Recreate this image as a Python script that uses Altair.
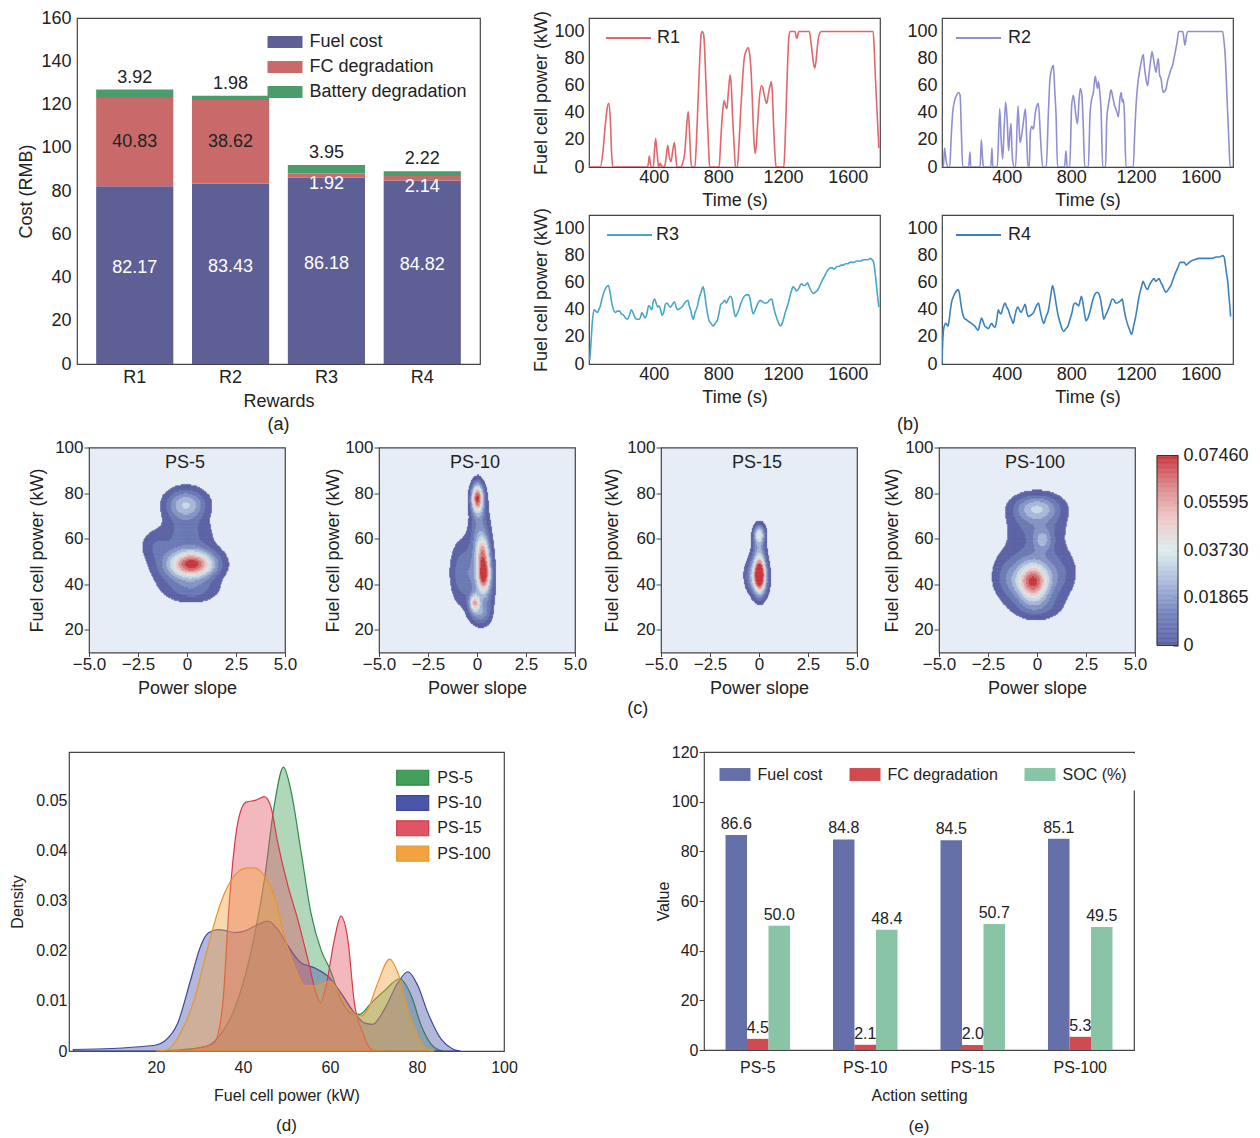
import altair as alt
import numpy as np
import pandas as pd

FONT = "Liberation Sans"
INK = "#222222"
FRAME = "#444444"

# ---------------- (a) cost breakdown per reward ----------------
rewards = ["R1", "R2", "R3", "R4"]
fuel_cost_a = [82.17, 83.43, 86.18, 84.82]
fc_degradation_a = [40.83, 38.62, 1.92, 2.14]
battery_degradation_a = [3.92, 1.98, 3.95, 2.22]
cost_parts = ["Fuel cost", "FC degradation", "Battery degradation"]
cost_colors = ["#5e5f95", "#c96a6a", "#4b9c6b"]

# ---------------- (b) fuel cell power traces (time s, power kW) ----------------
r1_trace = [(0,0),(70,0),(85,10),(100,30),(112,43),(122,47),(132,35),(140,10),(147,0),(359,0),(368,3),(373,8),(379,3),(386,0),(398,0),(405,12),(412,21),(420,12),(428,2),(433,0),(440,3),(447,1),(466,0),(475,5),(487,16),(496,8),(507,4),(518,12),(528,18),(537,8),(544,0),(570,0),(579,3),(592,10),(604,30),(614,41),(622,25),(630,5),(635,0),(655,0),(665,20),(675,50),(685,80),(694,98),(700,100),(709,98),(716,85),(724,60),(734,30),(742,8),(746,0),(805,0),(815,20),(826,40),(836,49),(845,45),(853,43),(862,55),(873,68),(880,60),(889,35),(898,15),(906,0),(918,0),(928,18),(940,45),(950,65),(960,80),(970,85),(986,88),(995,82),(1003,70),(1010,50),(1018,25),(1027,10),(1034,15),(1042,30),(1052,48),(1066,60),(1076,58),(1086,52),(1099,47),(1110,54),(1120,60),(1128,63),(1134,55),(1142,30),(1150,10),(1157,0),(1205,0),(1212,15),(1220,45),(1228,75),(1236,95),(1243,100),(1275,100),(1282,96),(1288,95),(1294,99),(1299,100),(1363,100),(1372,93),(1380,85),(1388,77),(1396,73),(1404,78),(1412,88),(1422,97),(1437,100),(1758,100),(1765,85),(1772,65),(1780,45),(1787,28),(1793,14)]
r2_trace = [(0,0),(8,0),(16,14),(25,5),(35,0),(48,0),(56,20),(66,40),(76,48),(90,53),(103,55),(112,53),(120,25),(128,0),(165,0),(173,11),(178,0),(236,0),(243,20),(250,8),(256,0),(302,0),(309,14),(314,0),(342,0),(357,43),(366,20),(375,6),(385,30),(394,48),(403,35),(412,12),(420,25),(427,32),(432,15),(437,5),(447,0),(455,0),(470,45),(477,30),(483,18),(500,30),(516,43),(524,20),(532,0),(540,0),(546,25),(555,30),(565,28),(577,40),(590,46),(596,47),(610,20),(623,0),(645,0),(658,40),(668,65),(680,73),(689,75),(698,55),(705,40),(715,0),(758,0),(767,12),(774,0),(790,0),(802,45),(812,53),(820,47),(829,37),(838,32),(848,50),(856,58),(866,52),(874,30),(883,0),(905,0),(916,40),(926,50),(936,55),(948,67),(955,62),(962,58),(968,63),(976,55),(984,42),(994,0),(1012,0),(1019,35),(1028,45),(1035,50),(1045,57),(1056,52),(1066,46),(1075,43),(1083,40),(1091,37),(1100,50),(1109,55),(1115,48),(1122,50),(1128,40),(1138,0),(1183,0),(1192,25),(1200,45),(1210,60),(1221,70),(1233,78),(1245,83),(1252,74),(1262,65),(1272,60),(1282,70),(1292,80),(1299,85),(1308,80),(1316,74),(1324,70),(1331,76),(1338,80),(1346,68),(1355,65),(1363,58),(1369,55),(1378,56),(1386,58),(1396,64),(1406,68),(1416,72),(1426,75),(1435,80),(1443,85),(1455,93),(1464,100),(1489,100),(1497,94),(1503,90),(1512,97),(1520,100),(1736,100),(1745,92),(1753,80),(1760,60),(1767,40),(1775,18),(1782,0),(1800,0)]
r3_trace = [(5,3),(12,15),(20,30),(31,40),(42,39),(52,38),(60,40),(68,42),(80,48),(99,55),(110,57),(120,58),(130,53),(141,45),(152,40),(162,38),(175,39),(189,39),(200,37),(214,36),(226,34),(238,33),(250,36),(261,40),(272,38),(286,34),(298,33),(311,33),(320,35),(327,38),(337,36),(348,34),(358,37),(369,43),(378,42),(388,40),(397,46),(406,48),(415,45),(425,42),(433,43),(443,40),(452,36),(462,38),(472,44),(483,45),(494,43),(504,42),(516,44),(529,46),(539,42),(549,40),(562,41),(574,42),(586,44),(598,46),(612,47),(620,43),(628,40),(636,36),(644,33),(656,38),(669,42),(680,48),(693,53),(706,57),(715,52),(723,45),(733,37),(743,32),(755,30),(768,28),(780,30),(793,32),(805,38),(815,44),(826,45),(840,47),(850,45),(862,48),(875,50),(885,48),(895,40),(906,35),(916,37),(927,40),(940,45),(950,48),(961,50),(975,51),(988,51),(996,48),(1005,42),(1015,37),(1025,39),(1035,42),(1050,46),(1060,47),(1072,46),(1085,45),(1100,45),(1115,47),(1131,48),(1140,43),(1150,38),(1158,35),(1170,31),(1183,28),(1195,30),(1205,34),(1214,38),(1225,42),(1235,46),(1245,51),(1255,55),(1262,57),(1272,56),(1283,54),(1293,55),(1303,57),(1310,59),(1318,59),(1326,58),(1335,58),(1345,59),(1352,60),(1359,58),(1370,55),(1380,53),(1390,52),(1400,53),(1411,54),(1421,56),(1432,59),(1440,61),(1448,63),(1458,65),(1470,68),(1483,70),(1495,71),(1505,71),(1514,70),(1525,71),(1535,72),(1545,72),(1560,73),(1575,73),(1586,74),(1600,74),(1614,75),(1627,75),(1640,75),(1654,76),(1668,76),(1682,76),(1696,77),(1710,77),(1725,77),(1741,78),(1750,77),(1758,76),(1765,72),(1772,65),(1780,56),(1787,48),(1793,42)]
r4_trace = [(0,2),(6,20),(12,27),(23,30),(30,29),(37,28),(45,33),(52,40),(58,45),(68,49),(79,52),(90,54),(100,55),(108,52),(116,45),(126,38),(137,34),(148,33),(158,32),(170,31),(182,30),(192,29),(203,28),(214,26),(224,25),(235,30),(245,34),(255,31),(265,28),(276,27),(286,26),(296,28),(307,30),(318,28),(328,27),(338,32),(348,40),(356,38),(365,37),(378,42),(390,45),(400,42),(410,40),(420,36),(430,33),(441,30),(450,35),(460,40),(469,42),(479,40),(489,38),(502,41),(514,44),(525,38),(535,35),(548,36),(566,38),(580,42),(597,45),(606,40),(615,35),(622,32),(630,30),(644,35),(659,40),(672,50),(684,58),(694,53),(705,45),(718,36),(732,30),(742,26),(753,24),(766,26),(779,28),(792,33),(804,38),(815,44),(825,45),(835,44),(845,43),(855,47),(862,50),(872,45),(882,37),(891,32),(903,34),(918,40),(928,45),(940,50),(949,52),(960,53),(970,52),(980,48),(991,40),(1001,33),(1012,36),(1028,40),(1040,44),(1053,48),(1065,47),(1075,45),(1084,45),(1097,46),(1108,47),(1115,48),(1124,42),(1135,35),(1146,30),(1158,26),(1173,22),(1185,28),(1198,35),(1208,42),(1219,50),(1232,56),(1244,61),(1255,58),(1263,56),(1271,55),(1282,58),(1291,60),(1302,62),(1312,63),(1322,61),(1332,62),(1343,63),(1354,60),(1364,58),(1374,55),(1385,53),(1395,54),(1405,56),(1416,58),(1428,62),(1440,66),(1447,68),(1458,71),(1474,75),(1486,75),(1499,75),(1510,73),(1520,74),(1540,76),(1560,77),(1592,78),(1618,78),(1644,78),(1670,78),(1696,79),(1716,79),(1737,80),(1745,79),(1752,74),(1760,67),(1768,60),(1775,50),(1781,42),(1785,35)]
reward_colors = ["#e0676d", "#8f90cf", "#47a6cc", "#3b80bf"]

# ---------------- (c) joint density (power slope, fuel cell power) ----------------
# Gaussian blobs: (slope centre, power centre, slope spread, power spread, peak density)
ps5_blobs = [(-0.1, 47, 1.15, 8.5, 0.020), (0.3, 49, 0.8, 4.0, 0.062), (-0.05, 75, 0.72, 4.8, 0.038),
             (0.0, 63, 0.95, 5.0, 0.013), (-1.7, 57, 0.5, 4.5, 0.010), (0.4, 37, 0.9, 3.5, 0.010)]
ps10_blobs = [(0.03, 78, 0.22, 4.5, 0.072), (0.35, 45, 0.22, 5.0, 0.060), (0.30, 55, 0.24, 4.5, 0.035),
              (0.15, 64, 0.36, 9.0, 0.022), (-0.12, 32, 0.18, 2.5, 0.045), (-0.75, 45, 0.45, 10.0, 0.020),
              (0.20, 42, 0.40, 10.0, 0.022), (0.15, 27, 0.36, 3.5, 0.020), (0.55, 40, 0.28, 9.0, 0.010)]
ps15_blobs = [(0.05, 44, 0.20, 5.0, 0.075), (0.02, 62, 0.20, 3.0, 0.045), (-0.30, 44, 0.32, 5.0, 0.020),
              (0.00, 54, 0.25, 5.0, 0.020), (0.05, 42, 0.35, 6.5, 0.020)]
ps100_blobs = [(-0.1, 46, 1.3, 11.0, 0.020), (-0.2, 41, 0.55, 5.5, 0.060), (0.0, 73.5, 0.85, 4.3, 0.036),
               (0.3, 59.5, 0.35, 3.5, 0.020), (0.0, 30, 0.8, 4.0, 0.012), (-1.5, 42, 0.5, 6.0, 0.010),
               (0.0, 65, 1.1, 5.0, 0.010), (1.2, 44, 0.5, 6.0, 0.006)]
slope_ticks = [-5, -2.5, 0, 2.5, 5]
power_ticks = [20, 40, 60, 80, 100]
cbar_ticks = [0, 0.01865, 0.0373, 0.05595, 0.0746]
cmap_stops = [0, 0.01243, 0.02487, 0.0373, 0.04973, 0.06217, 0.0746]
cmap_colors = ["#5a61a5", "#7383bc", "#a9b9da", "#dbeeee", "#eec9c9", "#db8a8c", "#c9373d"]

# ---------------- (d) 1-D density of fuel cell power (kW, density) ----------------
ps_names = ["PS-5", "PS-10", "PS-15", "PS-100"]
kde_ps5 = [(20,0),(26,0.0003),(31.8,0.001),(35,0.0035),(38,0.0083),(41.8,0.0196),(44.9,0.034),(47.2,0.049),(49.3,0.0566),(51,0.052),(53.3,0.040),(55.6,0.0276),(58,0.020),(60,0.0163),(62.5,0.0103),(64.8,0.0076),(66.8,0.0073),(69.5,0.0096),(72.5,0.012),(76,0.0144),(78.7,0.011),(81,0.005),(84,0.0007),(86,0)]
kde_ps10 = [(1,0.0003),(10,0.0005),(18,0.001),(20,0.0012),(22,0.002),(25,0.0056),(28,0.0143),(30.3,0.021),(32,0.0235),(34.2,0.0242),(36,0.024),(38,0.0236),(40.3,0.0239),(43.4,0.0252),(45.7,0.0259),(48,0.0242),(50.3,0.021),(53.3,0.0176),(56.4,0.0166),(59.5,0.0149),(62.5,0.0116),(65.6,0.0076),(67.9,0.0056),(69.8,0.0053),(72.5,0.0083),(75.6,0.0136),(77.9,0.0158),(80.2,0.013),(82.5,0.0076),(85.6,0.0023),(88,0.0005),(90,0)]
kde_ps15 = [(24,0),(30.3,0.0007),(33.4,0.0017),(35.3,0.009),(36.8,0.029),(38.8,0.0455),(40.7,0.0496),(43,0.05),(44.9,0.0507),(46.4,0.0487),(48,0.0415),(50.3,0.033),(52.6,0.0262),(54.9,0.0183),(56.8,0.0116),(57.8,0.0096),(59.1,0.013),(61,0.0222),(62.5,0.0269),(64.1,0.0222),(65.6,0.0096),(67.5,0.0037),(69.5,0.0003),(71,0)]
kde_ps100 = [(20,0),(22.6,0.0003),(25.7,0.0037),(28.8,0.0103),(31.8,0.0203),(34.9,0.0296),(38,0.0349),(41,0.0365),(42.6,0.0365),(44.9,0.0349),(47.2,0.0309),(49.5,0.0229),(51.8,0.0169),(54.1,0.0131),(56.4,0.013),(58.7,0.0137),(60.2,0.0139),(62.5,0.011),(64.8,0.008),(67.2,0.007),(68.7,0.0083),(71,0.0136),(73.7,0.0183),(75.6,0.0156),(77.9,0.0083),(80.2,0.003),(82.5,0.0003),(84,0)]
kde_fill = ["#43a05a", "#4b55aa", "#e05563", "#f2a23e"]
kde_line = ["#2f8a48", "#3d47a0", "#d43a48", "#e8952e"]

# ---------------- (e) results per action setting ----------------
fuel_cost_e = [86.6, 84.8, 84.5, 85.1]
fc_degradation_e = [4.5, 2.1, 2.0, 5.3]
soc_e = [50.0, 48.4, 50.7, 49.5]
metric_names = ["Fuel cost", "FC degradation", "SOC (%)"]
metric_colors = ["#6570a8", "#cf4b50", "#88c4a5"]


def rect_symbol(hw, hh):
    return f"M{-hw},{-hh}H{hw}V{hh}H{-hw}Z"


def ax(**kw):
    base = dict(grid=False, domain=False, labelColor=INK, titleColor=INK, titleFontWeight="normal",
                labelFont=FONT, titleFont=FONT, tickColor=FRAME, labelFlush=False)
    base.update(kw)
    return alt.Axis(**base)


def indep(ch):
    return ch.resolve_scale(color="independent", fill="independent", stroke="independent")


def spacer(w, h=1):
    return alt.Chart(pd.DataFrame({"s": [0]})).mark_rect(opacity=0).encode(
        x=alt.value(0), x2=alt.value(1), y=alt.value(0), y2=alt.value(1)
    ).properties(width=w, height=h, view=alt.ViewBackground(strokeOpacity=0, fillOpacity=0))


def bottom_title(text, size, offset, **kw):
    return alt.Title(text, orient="bottom", fontSize=size, offset=offset, anchor="middle",
                     fontWeight="normal", font=FONT, color=INK, **kw)


# ================= (a) =================
rows_a = []
for i, r in enumerate(rewards):
    for j, vals in enumerate([fuel_cost_a, fc_degradation_a, battery_degradation_a]):
        rows_a.append({"reward": r, "part": cost_parts[j], "cost": vals[i], "k": j})
df_a = pd.DataFrame(rows_a)
lab_a = pd.DataFrame({"reward": rewards, "fuel": fuel_cost_a, "fc": fc_degradation_a, "bat": battery_degradation_a})
lab_a["fuel_mid"] = lab_a["fuel"] / 2
lab_a["fc_mid"] = lab_a["fuel"] + lab_a["fc"] / 2
lab_a["top"] = lab_a["fuel"] + lab_a["fc"] + lab_a["bat"]

xa_scale = alt.Scale(domain=rewards, paddingInner=0.195, paddingOuter=0.2)
ya_scale = alt.Scale(domain=[0, 160], nice=False)
xa_axis = ax(title="Rewards", labelAngle=0, labelFontSize=18, titleFontSize=18,
             labelPadding=4, titlePadding=6, ticks=False)
ya_axis = ax(title="Cost (RMB)", values=list(range(0, 161, 20)), labelFontSize=18,
             titleFontSize=18, labelPadding=6, titlePadding=5, ticks=False)


def xa():
    return alt.X("reward:N", scale=xa_scale, sort=rewards, axis=xa_axis)


def ya(field):
    return alt.Y(f"{field}:Q", scale=ya_scale, axis=ya_axis)


bars_a = alt.Chart(df_a).mark_bar().encode(
    x=xa(),
    y=alt.Y("cost:Q", stack="zero", scale=ya_scale, axis=ya_axis),
    color=alt.Color("part:N", scale=alt.Scale(domain=cost_parts, range=cost_colors),
                    legend=alt.Legend(title=None, orient="none", legendX=197, legendY=13,
                                      symbolType=rect_symbol(1.6, 0.55), symbolSize=478,
                                      symbolStrokeWidth=0, labelFontSize=18, labelOffset=13.5,
                                      rowPadding=5, padding=0, labelColor=INK, labelFont=FONT)),
    order=alt.Order("k:Q", sort="ascending"),
)
txt_fuel = alt.Chart(lab_a).mark_text(fontSize=18, color="white", dy=-7, font=FONT).encode(
    x=xa(), y=ya("fuel_mid"), text=alt.Text("fuel:Q", format=".2f"))
txt_fc_big = alt.Chart(lab_a).transform_filter("datum.fc > 10").mark_text(
    fontSize=18, color=INK, font=FONT).encode(
    x=xa(), y=ya("fc_mid"), text=alt.Text("fc:Q", format=".2f"))
txt_fc_small = alt.Chart(lab_a).transform_filter("datum.fc <= 10").mark_text(
    fontSize=18, color="white", dy=8.5, font=FONT).encode(
    x=xa(), y=ya("fc_mid"), text=alt.Text("fc:Q", format=".2f"))
txt_bat = alt.Chart(lab_a).mark_text(fontSize=18, color=INK, dy=-12, font=FONT).encode(
    x=xa(), y=ya("top"), text=alt.Text("bat:Q", format=".2f"))
chart_a = alt.layer(bars_a, txt_fuel, txt_fc_big, txt_fc_small, txt_bat).properties(
    width=403, height=346, title=bottom_title("(a)", 18, 6, frame="group"))


# ================= (b) =================
def power_panel(name, trace, color, first_col, legend_x, label_off):
    df = pd.DataFrame(trace, columns=["t", "p"])
    df["run"] = name
    ykw = dict(values=[0, 20, 40, 60, 80, 100], labelFontSize=18, titleFontSize=18,
               labelPadding=5, titlePadding=3, ticks=False)
    ykw["title"] = "Fuel cell power (kW)" if first_col else ""
    return alt.Chart(df).mark_line(strokeWidth=1.6, interpolate="monotone", clip=True).encode(
        x=alt.X("t:Q", scale=alt.Scale(domain=[0, 1800], nice=False),
                axis=ax(values=[400, 800, 1200, 1600], format="d", title="Time (s)", labelFontSize=18,
                        titleFontSize=18, labelPadding=1, titlePadding=5, ticks=False)),
        y=alt.Y("p:Q", scale=alt.Scale(domain=[0, 110], nice=False), axis=ax(**ykw)),
        color=alt.Color("run:N", scale=alt.Scale(domain=[name], range=[color]),
                        legend=alt.Legend(title=None, orient="none", legendX=legend_x, legendY=10,
                                          symbolType="M-2.5,0H2.5", symbolSize=324, symbolStrokeWidth=1.8,
                                          labelFontSize=18, labelOffset=label_off, padding=0,
                                          labelColor=INK, labelFont=FONT)),
    ).properties(width=291, height=149)


p_r1 = power_panel("R1", r1_trace, reward_colors[0], True, 29.5, 18.5)
p_r2 = power_panel("R2", r2_trace, reward_colors[1], False, 26.5, 19.5)
p_r3 = power_panel("R3", r3_trace, reward_colors[2], True, 30.5, 16.5)
p_r4 = power_panel("R4", r4_trace, reward_colors[3], False, 26.5, 19.5)
block_b = indep(alt.concat(p_r1, p_r2, p_r3, p_r4, columns=2, spacing={"row": -4, "column": 25},
                           title=bottom_title("(b)", 18, 9, dx=25)))

row1 = indep(alt.hconcat(spacer(9), indep(alt.hconcat(chart_a, block_b, spacing=51)), spacing=0))

# ================= (c) =================
slope_edges = np.round(np.arange(-5.0, 5.0001, 0.05), 4)
power_edges = np.round(np.arange(10.0, 100.001, 0.6), 3)
level_edges = 0.0746 * np.arange(1, 11) / 10
cmap_scale = alt.Scale(domain=cmap_stops, range=cmap_colors, interpolate="rgb", clamp=True)


def density_cells(blobs):
    cx = (slope_edges[:-1] + slope_edges[1:]) / 2
    cy = (power_edges[:-1] + power_edges[1:]) / 2
    X, Y = np.meshgrid(cx, cy)
    D = np.zeros_like(X)
    for mx, my, sx, sy, amp in blobs:
        D += amp * np.exp(-0.5 * (((X - mx) / sx) ** 2 + ((Y - my) / sy) ** 2))
    band = np.searchsorted(level_edges, D, side="right")
    iy, ix = np.nonzero(band >= 1)
    return pd.DataFrame({
        "x0": slope_edges[ix], "x1": slope_edges[ix + 1],
        "y0": power_edges[iy], "y1": power_edges[iy + 1],
        "level": (band[iy, ix] - 1) / (len(level_edges) - 1) * 0.0746,
    })


slope_label = "datum.value == 0 ? '0' : replace(format(datum.value, '.1f'), '-', '\u2212')"


def density_panel(name, blobs, tpad):
    cells = density_cells(blobs)
    heat = alt.Chart(cells).mark_rect(strokeWidth=0.4).encode(
        x=alt.X("x0:Q", scale=alt.Scale(domain=[-5, 5], nice=False),
                axis=ax(values=slope_ticks, labelExpr=slope_label, title="Power slope",
                        labelFontSize=17, titleFontSize=18, tickSize=4, labelPadding=0,
                        titlePadding=7)),
        x2="x1:Q",
        y=alt.Y("y0:Q", scale=alt.Scale(domain=[10, 100], nice=False),
                axis=ax(values=power_ticks, title="Fuel cell power (kW)", labelFontSize=17,
                        titleFontSize=18, tickSize=5, labelPadding=1, titlePadding=tpad)),
        y2="y1:Q",
        color=alt.Color("level:Q", scale=cmap_scale, legend=None),
        stroke=alt.Stroke("level:Q", scale=cmap_scale, legend=None),
    )
    label = alt.Chart(pd.DataFrame({"name": [name]})).mark_text(
        fontSize=18, font=FONT, color=INK).encode(x=alt.value(96), y=alt.value(15), text="name:N")
    return alt.layer(heat, label).properties(
        width=196, height=205, view=alt.ViewBackground(fill="#e6edf7", stroke=FRAME, strokeWidth=1.2))


c_ps5 = density_panel("PS-5", ps5_blobs, 8.6)
c_ps10 = density_panel("PS-10", ps10_blobs, 2.6)
c_ps15 = density_panel("PS-15", ps15_blobs, 5.6)
c_ps100 = density_panel("PS-100", ps100_blobs, 3.6)

cb_edges = np.linspace(0, 0.0746, 151)
cb_df = pd.DataFrame({"v0": cb_edges[:-1], "v1": cb_edges[1:], "val": (cb_edges[:-1] + cb_edges[1:]) / 2})
cb_scale = alt.Scale(domain=[-0.00275, 0.07774], nice=False, zero=False)
cb_axis = ax(orient="right", values=cbar_ticks, title=None,
             labelExpr="datum.value == 0 ? '0' : format(datum.value, '.5f')",
             labelFontSize=18, tickSize=5, offset=-5, labelPadding=5, tickColor="#222222")
cbar = alt.layer(
    alt.Chart(cb_df).mark_rect(strokeWidth=0.5).encode(
        y=alt.Y("v0:Q", scale=cb_scale, axis=cb_axis),
        y2="v1:Q",
        color=alt.Color("val:Q", scale=cmap_scale, legend=None),
        stroke=alt.Stroke("val:Q", scale=cmap_scale, legend=None),
    ),
    alt.Chart(pd.DataFrame({"v0": [0.0], "v1": [0.0746]})).mark_rect(
        fillOpacity=0, stroke="#333333", strokeWidth=1).encode(
        y=alt.Y("v0:Q", scale=cb_scale, axis=cb_axis), y2="v1:Q"),
).properties(width=21, height=205, view=alt.ViewBackground(strokeOpacity=0))

panels_c = indep(alt.hconcat(
    indep(alt.hconcat(
        indep(alt.hconcat(c_ps5, c_ps10, spacing=25)),
        indep(alt.hconcat(c_ps15, c_ps100, spacing=12)),
        spacing=14)),
    cbar, spacing=8,
    title=bottom_title("(c)", 18, 2)))
row2 = indep(alt.hconcat(spacer(19), panels_c, spacing=0))

# ================= (d) =================
rows_d = []
for name, pts in zip(ps_names, [kde_ps5, kde_ps10, kde_ps15, kde_ps100]):
    for xv, dv in pts:
        rows_d.append({"setting": name, "power": xv, "density": dv})
df_d = pd.DataFrame(rows_d)
leg_d = alt.Legend(title=None, orient="none", legendX=329.7, legendY=11.7,
                   symbolType=rect_symbol(1.2, 0.56), symbolSize=711, symbolStrokeWidth=1.2,
                   labelFontSize=16, labelOffset=10.6, rowPadding=1.3, padding=0,
                   labelColor=INK, labelFont=FONT)
layers_d = []
for name in ps_names:
    layers_d.append(alt.Chart(df_d).transform_filter(alt.datum.setting == name).mark_area(
        fillOpacity=0.42, strokeWidth=1.2, interpolate="monotone").encode(
        x=alt.X("power:Q", scale=alt.Scale(domain=[0, 100], nice=False),
                axis=ax(values=[20, 40, 60, 80, 100], title="Fuel cell power (kW)", labelFontSize=16,
                        titleFontSize=16, labelPadding=8, titlePadding=12, ticks=False)),
        y=alt.Y("density:Q", stack=None, scale=alt.Scale(domain=[0, 0.0596], nice=False),
                axis=ax(values=[0, 0.01, 0.02, 0.03, 0.04, 0.05], title="Density",
                        labelExpr="datum.value == 0 ? '0' : format(datum.value, '.2f')",
                        labelFontSize=16, titleFontSize=16, labelPadding=2, titlePadding=10,
                        ticks=False)),
        fill=alt.Fill("setting:N", scale=alt.Scale(domain=ps_names, range=kde_fill), legend=leg_d),
        stroke=alt.Stroke("setting:N", scale=alt.Scale(domain=ps_names, range=kde_line), legend=leg_d),
    ))
chart_d = alt.layer(*layers_d).properties(
    width=435, height=299, title=bottom_title("(d)", 17, 14.5, frame="group"))

# ================= (e) =================
rows_e = []
for i, s in enumerate(ps_names):
    for j, vals in enumerate([fuel_cost_e, fc_degradation_e, soc_e]):
        rows_e.append({"setting": s, "metric": metric_names[j], "value": vals[i]})
df_e = pd.DataFrame(rows_e)
xe = alt.X("setting:N", sort=ps_names, scale=alt.Scale(domain=ps_names, paddingInner=0.4, paddingOuter=0.2),
           axis=ax(title="Action setting", labelAngle=0, labelFontSize=16, titleFontSize=16,
                   labelPadding=9, titlePadding=12, ticks=False))
xoe = alt.XOffset("metric:N", scale=alt.Scale(domain=metric_names, paddingInner=0, paddingOuter=0))
ye = alt.Y("value:Q", scale=alt.Scale(domain=[0, 120], nice=False),
           axis=ax(values=list(range(0, 121, 20)), title="Value", labelFontSize=16, titleFontSize=16,
                   tickSize=5, labelPadding=1, titlePadding=0))
bars_e = alt.Chart(df_e).mark_bar().encode(
    x=xe, xOffset=xoe, y=ye,
    color=alt.Color("metric:N", scale=alt.Scale(domain=metric_names, range=metric_colors),
                    legend=alt.Legend(title=None, orient="none", direction="horizontal", columns=3,
                                      legendX=10, legendY=1.5, symbolType=rect_symbol(1.2, 0.5),
                                      symbolSize=667, symbolStrokeWidth=0, labelFontSize=16,
                                      labelOffset=9.6, columnPadding=26, padding=8, fillColor="white",
                                      labelColor=INK, labelFont=FONT)),
)
txt_e = alt.Chart(df_e).mark_text(fontSize=16, baseline="bottom", dy=-3, color=INK, font=FONT).encode(
    x=xe, xOffset=xoe, y=ye, text=alt.Text("value:Q", format=".1f"))
chart_e = alt.layer(bars_e, txt_e).properties(
    width=430, height=298, title=bottom_title("(e)", 17, 15.5, frame="group"))

row3 = indep(alt.hconcat(spacer(1), indep(alt.hconcat(chart_d, chart_e, spacing=136)), spacing=0))

chart = indep(alt.vconcat(indep(alt.vconcat(row1, row2, spacing=2.5)), row3, spacing=24)).properties(
    padding={"left": 0, "top": 0, "right": 0, "bottom": 0}
).configure(font=FONT).configure_view(stroke=FRAME, strokeWidth=1.2).configure_axis(
    grid=False, domain=False
).configure_title(fontWeight="normal")

chart.save("out.html", embed_options={"renderer": "svg", "actions": False})
